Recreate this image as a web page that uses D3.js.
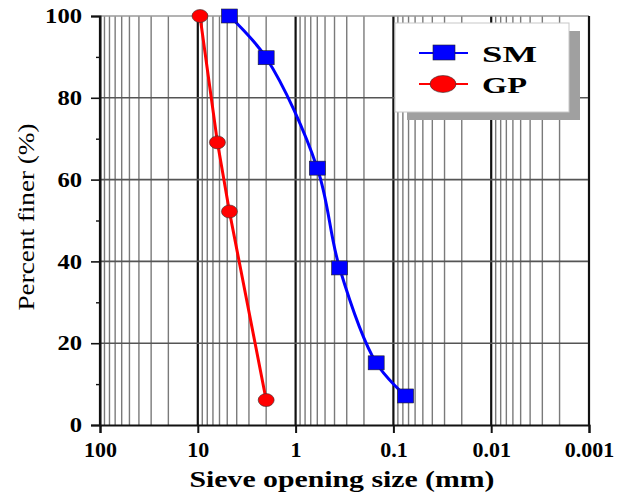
<!DOCTYPE html>
<html>
<head>
<meta charset="utf-8">
<script src="https://cdn.jsdelivr.net/npm/d3@7"></script>
<style>
  html, body { margin: 0; padding: 0; background: #fff; }
  svg { display: block; }
</style>
</head>
<body>
<svg id="chart" width="619" height="497"></svg>
<script>
// Grain size distribution data
const smSize = [4.75, 2.0, 0.6, 0.355, 0.15, 0.075];
const smFiner = [100, 89.8, 62.8, 38.4, 15.2, 7.1];
const gpSize = [9.5, 6.3, 4.75, 2.0];
const gpFiner = [100, 69.1, 52.2, 6.1];
const xTickValues = [100, 10, 1, 0.1, 0.01, 0.001];
const xTickLabels = ["100", "10", "1", "0.1", "0.01", "0.001"];
const yTickValues = [0, 20, 40, 60, 80, 100];
const seriesNames = ["SM", "GP"];

(function () {
const svg = d3.select("#chart");
const pL = 100, pR = 589, pT = 16, pB = 425;

const x = d3.scaleLog().domain([100, 0.001]).range([pL, pR]);
const y = d3.scaleLinear().domain([0, 100]).range([pB, pT]);

const serif = "'Liberation Serif', 'Times New Roman', serif";

// minor and major vertical grid lines (2..9 within each decade)
const minor = [];
const majors = [];
for (let e = 2; e >= -3; e--) {
  const base = Math.pow(10, e);
  majors.push(base);
  if (e > -3) for (let k = 2; k <= 9; k++) minor.push(base * k / 10);
}
const grid = svg.append("g");
grid.selectAll("line.vminor").data(minor).join("line")
  .attr("x1", d => x(d)).attr("x2", d => x(d))
  .attr("y1", pT).attr("y2", pB)
  .attr("stroke", "#7a7a7a").attr("stroke-width", 1.4);
grid.selectAll("line.vmajor").data(majors).join("line")
  .attr("x1", d => x(d)).attr("x2", d => x(d))
  .attr("y1", pT).attr("y2", pB)
  .attr("stroke", "#111").attr("stroke-width", 2.2);
grid.selectAll("line.h").data([20, 40, 60, 80, 100]).join("line")
  .attr("x1", pL).attr("x2", pR)
  .attr("y1", d => y(d)).attr("y2", d => y(d))
  .attr("stroke", d => d === 100 ? "#9a9a9a" : "#555").attr("stroke-width", 1.6);

// axes
const xAxis = d3.axisBottom(x).tickValues(xTickValues)
  .tickFormat((d, i) => xTickLabels[i]).tickSize(8).tickPadding(8);
const gx = svg.append("g").attr("transform", `translate(0,${pB})`).call(xAxis);
gx.select(".domain").attr("stroke", "#111").attr("stroke-width", 2);
gx.selectAll(".tick line").attr("stroke", "#111").attr("stroke-width", 2);
gx.selectAll(".tick text").attr("font-family", serif).attr("font-weight", "bold")
  .attr("font-size", 22).attr("fill", "#000");

const yAxis = d3.axisLeft(y).tickValues(yTickValues).tickSize(9).tickPadding(9);
const gy = svg.append("g").attr("transform", `translate(${pL},0)`).call(yAxis);
gy.select(".domain").attr("stroke", "#111").attr("stroke-width", 2);
gy.selectAll(".tick line").attr("stroke", "#111").attr("stroke-width", 1.6);
gy.selectAll(".tick text").attr("font-family", serif).attr("font-weight", "bold")
  .attr("font-size", 21).attr("fill", "#000")
  .attr("textLength", d => String(d).length * 12.3).attr("lengthAdjust", "spacingAndGlyphs");
const gyMinor = d3.axisLeft(y).tickValues([10, 30, 50, 70, 90]).tickSize(4).tickFormat("");
const gym = svg.append("g").attr("transform", `translate(${pL},0)`).call(gyMinor);
gym.select(".domain").remove();
gym.selectAll(".tick line").attr("stroke", "#111").attr("stroke-width", 1.4);

// right border
svg.append("line").attr("x1", pR).attr("x2", pR).attr("y1", pT).attr("y2", pB)
  .attr("stroke", "#111").attr("stroke-width", 2);

// axis titles
svg.append("text").attr("x", 342).attr("y", 487).attr("text-anchor", "middle")
  .attr("font-family", serif).attr("font-weight", "bold").attr("font-size", 24)
  .attr("textLength", 305).attr("lengthAdjust", "spacingAndGlyphs")
  .text("Sieve opening size (mm)");
svg.append("text").attr("transform", "translate(34,217) rotate(-90)")
  .attr("text-anchor", "middle").attr("font-family", serif).attr("font-size", 23)
  .attr("textLength", 187).attr("lengthAdjust", "spacingAndGlyphs")
  .text("Percent finer (%)");

// series
const sm = smSize.map((s, i) => [s, smFiner[i]]);
const gp = gpSize.map((s, i) => [s, gpFiner[i]]);

svg.append("path").datum(sm)
  .attr("d", d3.line().x(d => x(d[0])).y(d => y(d[1])).curve(d3.curveCatmullRom.alpha(0.5)))
  .attr("fill", "none").attr("stroke", "#0000ff").attr("stroke-width", 3);
svg.append("path").datum(gp)
  .attr("d", d3.line().x(d => x(d[0])).y(d => y(d[1])))
  .attr("fill", "none").attr("stroke", "#ff0000").attr("stroke-width", 3);

svg.selectAll("rect.sm").data(sm).join("rect")
  .attr("x", d => x(d[0]) - 8).attr("y", d => y(d[1]) - 7)
  .attr("width", 16).attr("height", 14)
  .attr("fill", "#0000ff").attr("stroke", "#222").attr("stroke-width", 0.6);
svg.selectAll("ellipse.gp").data(gp).join("ellipse")
  .attr("cx", d => x(d[0])).attr("cy", d => y(d[1]))
  .attr("rx", 8).attr("ry", 6.5)
  .attr("fill", "#ff0000").attr("stroke", "#333").attr("stroke-width", 0.6);

// legend with drop shadow
const lg = svg.append("g");
lg.append("rect").attr("x", 407).attr("y", 31).attr("width", 173).attr("height", 89).attr("fill", "#a0a0a0");
lg.append("rect").attr("x", 395).attr("y", 23).attr("width", 174).attr("height", 89)
  .attr("fill", "#fff").attr("stroke", "#c8c8c8").attr("stroke-width", 1);
const rowY = [53, 84];
const colors = ["#0000ff", "#ff0000"];
const labelLen = [55, 45];
seriesNames.forEach((name, i) => {
  lg.append("line").attr("x1", 419).attr("x2", 468).attr("y1", rowY[i]).attr("y2", rowY[i])
    .attr("stroke", colors[i]).attr("stroke-width", 2);
  if (i === 0) {
    lg.append("rect").attr("x", 433).attr("y", rowY[i] - 8).attr("width", 22).attr("height", 15)
      .attr("fill", colors[i]).attr("stroke", "#222").attr("stroke-width", 0.6);
  } else {
    lg.append("ellipse").attr("cx", 443).attr("cy", rowY[i]).attr("rx", 13).attr("ry", 8.5)
      .attr("fill", colors[i]).attr("stroke", "#333").attr("stroke-width", 0.6);
  }
  lg.append("text").attr("x", 482).attr("y", rowY[i] + 9)
    .attr("font-family", serif).attr("font-weight", "bold").attr("font-size", 24)
    .attr("textLength", labelLen[i]).attr("lengthAdjust", "spacingAndGlyphs")
    .text(name);
});
})();
</script>
</body>
</html>
